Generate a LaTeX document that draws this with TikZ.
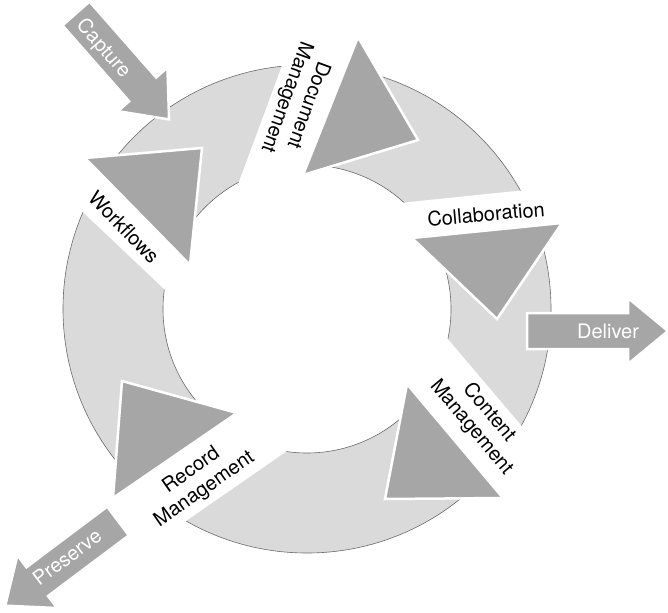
\documentclass[tikz,border=0pt]{standalone}
\usepackage{fontspec}
\setmainfont{TeX Gyre Heros}
\usetikzlibrary{calc}

\definecolor{ringgray}{HTML}{DADADA}
\definecolor{headgray}{HTML}{A6A6A6}
\definecolor{rimgray}{HTML}{6A6A6A}

\begin{document}
\begin{tikzpicture}[x=1pt,y=-1pt,
  ring/.style={fill=ringgray,draw=rimgray,line width=0.6pt,even odd rule},
  gap/.style={fill=white},
  head/.style={fill=headgray,draw=white,line width=2.5pt},
  label/.style={font=\fontsize{20}{23}\selectfont,align=center,inner sep=0pt},
  flowlabel/.style={label,text=white},
  pics/flowarrow/.style={code={
    \path[head] (0,18) -- (101,18) -- (101,33) -- (141,0) -- (101,-33) -- (101,-18) -- (0,-18) -- cycle;}}
]
\useasboundingbox (0,0) rectangle (668,612);

% the ring
\coordinate (c) at (307,309);
\path[ring] (c) circle[radius=244pt] (c) circle[radius=144pt];

% triangle corners (base on the gap, tip clockwise)
\coordinate (t1a) at (358,37);  \coordinate (t1b) at (303,175); \coordinate (t1c) at (418,140);
\coordinate (t2a) at (412,238); \coordinate (t2b) at (562,223); \coordinate (t2c) at (497,319);
\coordinate (t3a) at (407,384); \coordinate (t3b) at (503,498); \coordinate (t3c) at (385,499);
\coordinate (t4a) at (237,413); \coordinate (t4b) at (113,498); \coordinate (t4c) at (122,381);
\coordinate (t5a) at (85,158);  \coordinate (t5b) at (190,265); \coordinate (t5c) at (202,148);

% white gaps
\fill[gap] (290,44) -- (233,198) -- (t1b) -- (t1a) -- cycle;
\fill[gap] (390,204) -- (545,188) -- (t2b) -- (t2a) -- cycle;
\fill[gap] (430,318) -- (536,443) -- (t3b) -- (t3a) -- cycle;
\fill[gap] (300,442) -- (170,532) -- (t4b) -- (t4a) -- cycle;
\fill[gap] (66,196) -- (183,307) -- (t5b) -- (t5a) -- cycle;

% arrow heads
\path[head] (t1a) -- (t1b) -- (t1c) -- cycle;
\path[head] (t2a) -- (t2b) -- (t2c) -- cycle;
\path[head] (t3a) -- (t3b) -- (t3c) -- cycle;
\path[head] (t4a) -- (t4b) -- (t4c) -- cycle;
\path[head] (t5a) -- (t5b) -- (t5c) -- cycle;

% in and out
\pic[rotate=-48.7] at (76,13.5) {flowarrow};
\pic at (527,331) {flowarrow};
\pic[rotate=216.9] at (118,521) {flowarrow};

\node[flowlabel,rotate=-48.7] (capture) at (103,49) {Capture};
\node[flowlabel] (deliver) at (608,331) {Deliver};
\node[flowlabel,rotate=36.9] (preserve) at (67,557) {Preserve};

% stage labels
\node[label,rotate=-110] (docmgmt) at (297,101) {Document\\Management};
\node[label,rotate=5] (collab) at (486,214) {Collaboration};
\node[label,rotate=-50] (contmgmt) at (480,420) {Content\\Management};
\node[label,rotate=35] (recmgmt) at (198,480) {Record\\Management};
\node[label,rotate=-46] (workflows) at (124,227) {Workflows};
\end{tikzpicture}
\end{document}
